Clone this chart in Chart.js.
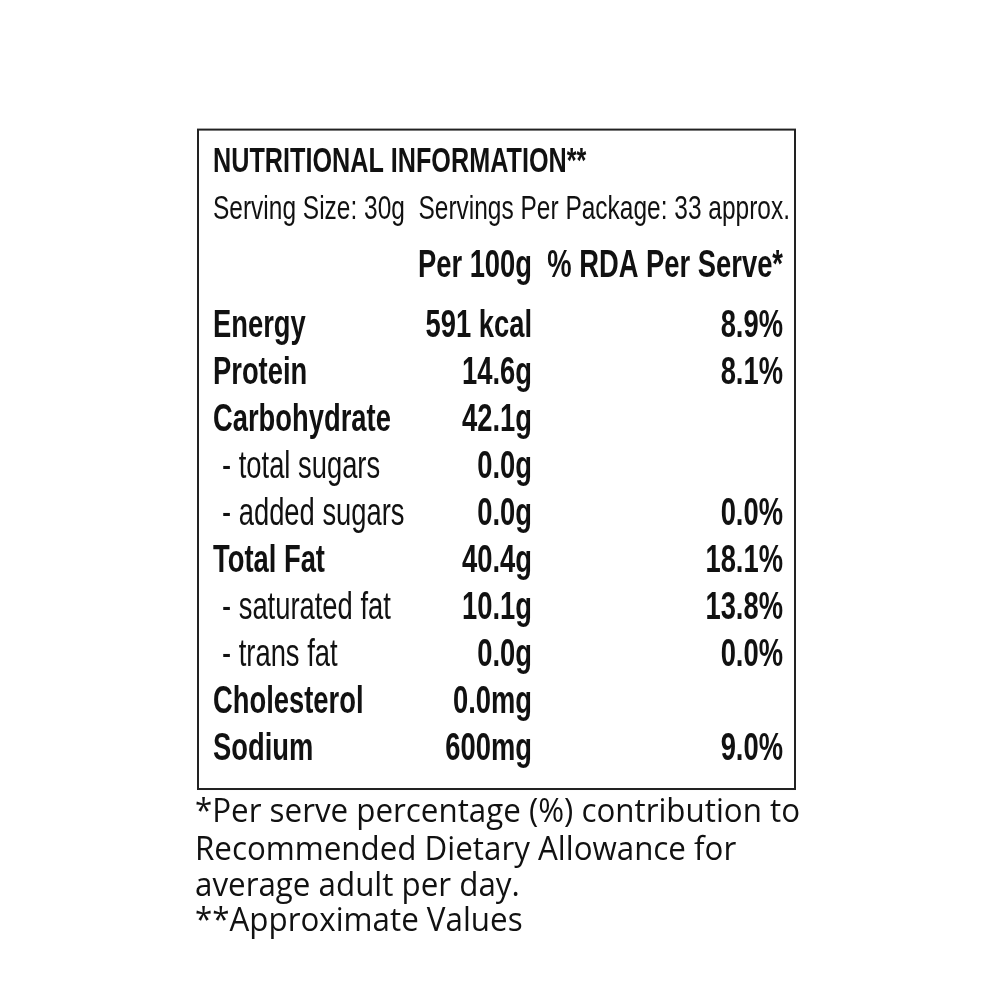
<!DOCTYPE html>
<html><head><meta charset="utf-8">
<script src="https://cdn.jsdelivr.net/npm/chart.js@4/dist/chart.umd.min.js"></script>
<style>html,body{margin:0;padding:0;background:#fff}#w{width:1000px;height:1000px}</style>
</head><body><div id="w"><canvas id="c"></canvas></div>
<script>
const title = "NUTRITIONAL INFORMATION**";
const servingLine = "Serving Size: 30g  Servings Per Package: 33 approx.";
const colHeaders = ["Per 100g", "% RDA Per Serve*"];
const nutrients = ["Energy","Protein","Carbohydrate","- total sugars","- added sugars","Total Fat","- saturated fat","- trans fat","Cholesterol","Sodium"];
const isSub = [false,false,false,true,true,false,true,true,false,false];
const per100g = ["591 kcal","14.6g","42.1g","0.0g","0.0g","40.4g","10.1g","0.0g","0.0mg","600mg"];
const rda = ["8.9%","8.1%","","","0.0%","18.1%","13.8%","0.0%","","9.0%"];
const footnotes = ["*Per serve percentage (%) contribution to","Recommended Dietary Allowance for","average adult per day.","**Approximate Values"];

const rowIdx = nutrients.map((_, i) => i);
const labelPlugin = {
  id: 'label',
  afterDraw(chart) {
    const ctx = chart.ctx, xs = chart.scales.x, ys = chart.scales.y;
    const sx = 0.72;
    function txt(s, x, y, font, align) {
      ctx.save(); ctx.font = font; ctx.fillStyle = '#111'; ctx.textBaseline = 'middle';
      ctx.translate(x, y); ctx.scale(sx, 1); ctx.textAlign = align || 'left';
      ctx.fillText(s, 0, 0); ctx.restore();
    }
    const B = 'bold 38px "Liberation Sans", sans-serif';
    const N = '38px "Liberation Sans", sans-serif';
    // box
    ctx.save(); ctx.strokeStyle = '#222'; ctx.lineWidth = 2;
    ctx.strokeRect(xs.getPixelForValue(198), ys.getPixelForValue(-4.2), xs.getPixelForValue(795)-xs.getPixelForValue(198), ys.getPixelForValue(9.83)-ys.getPixelForValue(-4.2));
    ctx.restore();
    txt(title, xs.getPixelForValue(213), ys.getPixelForValue(-3.5), 'bold 35px "Liberation Sans", sans-serif');
    txt(servingLine, xs.getPixelForValue(213), ys.getPixelForValue(-2.49), '34px "Liberation Sans", sans-serif');
    txt(colHeaders[0], xs.getPixelForValue(532), ys.getPixelForValue(-1.28), B, 'right');
    txt(colHeaders[1], xs.getPixelForValue(783), ys.getPixelForValue(-1.28), B, 'right');
    rowIdx.forEach(i => {
      const y = ys.getPixelForValue(i);
      txt(nutrients[i], xs.getPixelForValue(isSub[i] ? 222 : 213), y, isSub[i] ? N : B);
      txt(per100g[i], xs.getPixelForValue(532), y, B, 'right');
      if (rda[i]) txt(rda[i], xs.getPixelForValue(783), y, B, 'right');
    });
    // footnotes
    ctx.save(); ctx.font = '33px "Open Sans", sans-serif'; ctx.fillStyle = '#111'; ctx.textBaseline = 'middle';
    const w0 = ctx.measureText(footnotes[0]).width; const fs = 605 / w0;
    const fy = [10.33, 11.14, 11.9, 12.65];
    footnotes.forEach((f, k) => {
      ctx.save(); ctx.translate(xs.getPixelForValue(195), ys.getPixelForValue(fy[k])); ctx.scale(fs, 1);
      ctx.fillText(f, 0, 0); ctx.restore();
    });
    ctx.restore();
  }
};
new Chart(document.getElementById('c'), {
  type: 'scatter',
  data: { datasets: [{ data: rowIdx.map(i => ({x: 0, y: i})), pointRadius: 0 }] },
  options: {
    responsive: true, maintainAspectRatio: false, animation: false,
    layout: { padding: 0 },
    plugins: { legend: { display: false }, tooltip: { enabled: false } },
    scales: {
      x: { display: false, min: 0, max: 1000 },
      y: { display: false, reverse: true, min: -327/47, max: -327/47 + 1000/47 }
    }
  },
  plugins: [labelPlugin]
});
</script></body></html>
